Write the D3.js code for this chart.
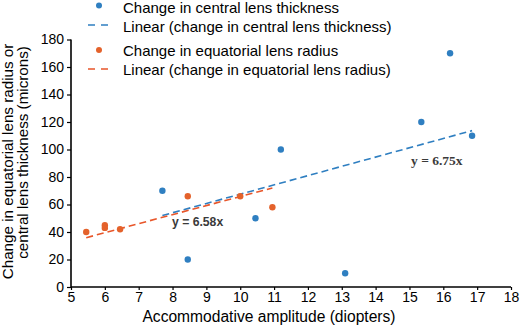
<!DOCTYPE html>
<html><head><meta charset="utf-8">
<script src="https://cdn.jsdelivr.net/npm/d3@7"></script>
<style>body{margin:0;background:#fff}svg{display:block}</style>
</head><body><svg id="c" width="521" height="329"></svg>
<script>
const thicknessX = [7.7, 8.45, 10.45, 11.2, 13.1, 15.35, 16.2, 16.85];
const thicknessY = [70, 20, 50, 100, 10, 120, 170, 110];
const radiusX = [5.45, 6.0, 6.0, 6.45, 8.45, 10.0, 10.95];
const radiusY = [40, 45, 43, 42, 66, 66, 58];
const slopes = {thickness: 6.75, radius: 6.58};
const xTicks = [5,6,7,8,9,10,11,12,13,14,15,16,17,18];
const yTicks = [0,20,40,60,80,100,120,140,160,180];
const legendLabels = ["Change in central lens thickness","Linear (change in central lens thickness)","Change in equatorial lens radius","Linear (change in equatorial lens radius)"];

const SANS = "'Liberation Sans', Arial, sans-serif";
const SERIF = "'Liberation Serif', 'Times New Roman', serif";
const blue = "#2f7fc1", orange = "#e4622b", orangeLine = "#e8562a";
const svg = d3.select("#c");
const x = d3.scaleLinear().domain([5,18]).range([71,511]);
const y = d3.scaleLinear().domain([0,180]).range([287,39.5]);

// axes
const xa = svg.append("g").attr("transform","translate(0,287)")
  .call(d3.axisBottom(x).tickValues(xTicks).tickSize(3).tickPadding(2).tickFormat(d3.format("d")));
const ya = svg.append("g").attr("transform","translate(71,0)")
  .call(d3.axisLeft(y).tickValues(yTicks).tickSize(4).tickPadding(3).tickFormat(d3.format("d")));
[xa,ya].forEach(g=>{
  g.select(".domain").attr("stroke","#000").attr("stroke-width",1.6);
  g.selectAll(".tick line").attr("stroke","#000").attr("stroke-width",1.2);
  g.selectAll(".tick text").style("font-size","14px").style("font-family",SANS).attr("fill","#000");
});
xa.select(".domain").attr("d","M71,0H511");
ya.select(".domain").attr("d","M0,39.5V287");

// trend lines
function trend(xs, k, color){
  const x0 = d3.min(xs), x1 = d3.max(xs);
  svg.append("line").attr("x1",x(x0)).attr("y1",y(k*x0)).attr("x2",x(x1)).attr("y2",y(k*x1))
    .attr("stroke",color).attr("stroke-width",1.6).attr("stroke-dasharray","7,4");
}
trend(thicknessX, slopes.thickness, blue);
trend(radiusX, slopes.radius, orangeLine);

// points
svg.append("g").selectAll("circle").data(d3.zip(thicknessX,thicknessY)).join("circle")
  .attr("cx",d=>x(d[0])).attr("cy",d=>y(d[1])).attr("r",3.2).attr("fill",blue);
svg.append("g").selectAll("circle").data(d3.zip(radiusX,radiusY)).join("circle")
  .attr("cx",d=>x(d[0])).attr("cy",d=>y(d[1])).attr("r",3.2).attr("fill",orange);

// equation labels
svg.append("text").attr("x",411).attr("y",165).style("font-family",SERIF)
  .style("font-weight","bold").style("font-size","13.5px").attr("fill","#3a3a3a").text("y = 6.75x");
svg.append("text").attr("x",172).attr("y",226).style("font-family",SANS)
  .style("font-weight","bold").style("font-size","12.2px").attr("fill","#3a3a3a").text("y = 6.58x");

// legend
const leg = svg.append("g");
const rows = [
  {type:"dot", color:blue, y:5.5, ty:13},
  {type:"line", color:blue, y:25, ty:31.5},
  {type:"dot", color:orange, y:50, ty:55.5},
  {type:"line", color:orangeLine, y:69, ty:75}
];
rows.forEach((r,i)=>{
  if(r.type==="dot") leg.append("circle").attr("cx",99).attr("cy",r.y).attr("r",3).attr("fill",r.color);
  else leg.append("line").attr("x1",88).attr("x2",108).attr("y1",r.y).attr("y2",r.y)
    .attr("stroke",r.color).attr("stroke-width",1.6).attr("stroke-dasharray","7,6");
  leg.append("text").attr("x",123).attr("y",r.ty).style("font-size","15px").style("font-family",SANS).attr("fill","#000").text(legendLabels[i]);
});

// axis titles
svg.append("text").attr("x",269).attr("y",322).attr("text-anchor","middle").style("font-size","15.6px").style("font-family",SANS).attr("fill","#000")
  .text("Accommodative amplitude (diopters)");
svg.append("text").attr("transform","translate(13,161.5) rotate(-90)").attr("text-anchor","middle").style("font-size","15.2px").style("font-family",SANS).attr("fill","#000")
  .text("Change in equatorial lens radius or");
svg.append("text").attr("transform","translate(27.5,152.5) rotate(-90)").attr("text-anchor","middle").style("font-size","15.2px").style("font-family",SANS).attr("fill","#000")
  .text("central lens thickness (microns)");
</script></body></html>
